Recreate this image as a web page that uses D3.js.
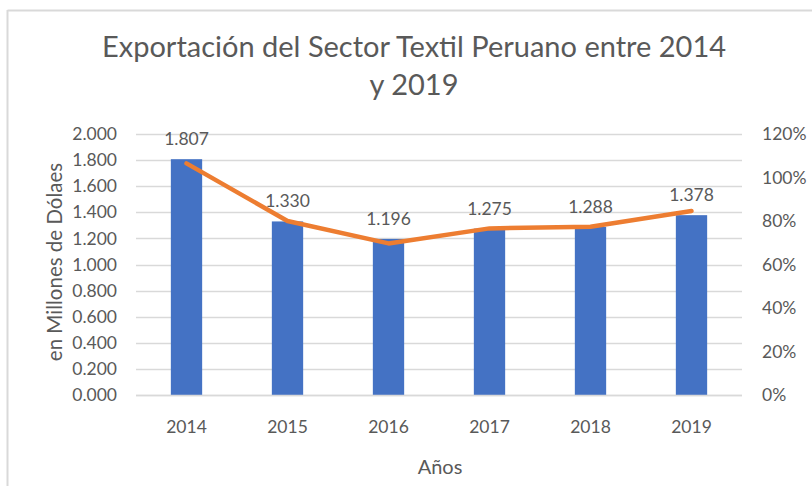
<!DOCTYPE html>
<html>
<head>
<meta charset="utf-8">
<script src="https://cdn.jsdelivr.net/npm/d3@7"></script>
<style>
  html, body { margin: 0; padding: 0; background: #fff; }
  svg { display: block; }
  text { font-family: Lato, "Open Sans", "Noto Sans", sans-serif; fill: #595959; }
</style>
</head>
<body>
<svg id="chart" width="812" height="486"></svg>
<script>
const years = ["2014", "2015", "2016", "2017", "2018", "2019"];
const exportValues = [1.807, 1.330, 1.196, 1.275, 1.288, 1.378];
const percentValues = [1.065, 0.80, 0.697, 0.766, 0.774, 0.846];
const leftTicks = [0, 0.2, 0.4, 0.6, 0.8, 1.0, 1.2, 1.4, 1.6, 1.8, 2.0];
const rightTicks = [0, 0.2, 0.4, 0.6, 0.8, 1.0, 1.2];
const titleLines = ["Exportación del Sector Textil Peruano entre 2014", "y 2019"];
const yTitle = "en Millones de Dólaes";
const xTitle = "Años";

const svg = d3.select("#chart");
const W = 812, H = 486;
const plot = { left: 136, right: 742, top: 134, bottom: 395 };
const FONT = "Lato, 'Open Sans', sans-serif";

// chart frame (top and left edges visible)
svg.append("line").attr("x1", 7.5).attr("x2", W).attr("y1", 10.5).attr("y2", 10.5)
  .attr("stroke", "#D9D9D9").attr("stroke-width", 2);
svg.append("line").attr("x1", 7.5).attr("x2", 7.5).attr("y1", 10).attr("y2", H)
  .attr("stroke", "#D9D9D9").attr("stroke-width", 2);

const x = d3.scaleBand().domain(years).range([plot.left, plot.right])
  .paddingInner(0.69).paddingOuter(0.345);
const y = d3.scaleLinear().domain([0, 2]).range([plot.bottom, plot.top]);
const y2 = d3.scaleLinear().domain([0, 1.2]).range([plot.bottom, plot.top]);

// gridlines
svg.append("g").selectAll("line").data(leftTicks).join("line")
  .attr("x1", plot.left).attr("x2", plot.right)
  .attr("y1", d => Math.round(y(d)) + 0.5).attr("y2", d => Math.round(y(d)) + 0.5)
  .attr("stroke", "#D9D9D9").attr("stroke-width", 1.3);

// left axis
const leftAxis = svg.append("g").attr("transform", `translate(${plot.left - 19},0)`)
  .call(d3.axisLeft(y).tickValues(leftTicks).tickSize(0).tickPadding(0).tickFormat(d3.format(".3f")));
leftAxis.select(".domain").remove();
leftAxis.selectAll("text").style("font-size", "17.5px").attr("fill", "#595959")
  .style("font-family", FONT);

// right axis
const rightAxis = svg.append("g").attr("transform", `translate(${plot.right + 20},0)`)
  .call(d3.axisRight(y2).tickValues(rightTicks).tickSize(0).tickPadding(0).tickFormat(d3.format(".0%")));
rightAxis.select(".domain").remove();
rightAxis.selectAll("text").style("font-size", "17.5px").attr("fill", "#595959")
  .style("font-family", FONT);

// bars
svg.append("g").selectAll("rect").data(years).join("rect")
  .attr("x", d => x(d)).attr("width", x.bandwidth())
  .attr("y", (d, i) => y(exportValues[i]))
  .attr("height", (d, i) => y(0) - y(exportValues[i]))
  .attr("fill", "#4472C4");

// x axis
const xAxis = svg.append("g").attr("transform", `translate(0,${plot.bottom})`)
  .call(d3.axisBottom(x).tickSize(0).tickPadding(26));
xAxis.select(".domain").attr("stroke", "#D9D9D9").attr("stroke-width", 1.3)
  .attr("d", `M${plot.left},0.5H${plot.right}`);
xAxis.selectAll("text").style("font-size", "17.5px").attr("fill", "#595959")
  .style("font-family", FONT);

// line
const line = d3.line().x((d, i) => x(years[i]) + x.bandwidth() / 2).y(d => y2(d));
svg.append("path").datum(percentValues).attr("d", line)
  .attr("fill", "none").attr("stroke", "#ED7D31").attr("stroke-width", 4.5)
  .attr("stroke-linecap", "round").attr("stroke-linejoin", "round");

// data labels
svg.append("g").selectAll("text").data(years).join("text")
  .attr("x", d => x(d) + x.bandwidth() / 2)
  .attr("y", (d, i) => y(exportValues[i]) - 14)
  .attr("text-anchor", "middle").style("font-size", "17.5px")
  .text((d, i) => d3.format(".3f")(exportValues[i]));

// title
svg.append("text").attr("x", 414).attr("y", 57).attr("text-anchor", "middle")
  .style("font-size", "29px").text(titleLines[0]);
svg.append("text").attr("x", 414).attr("y", 95).attr("text-anchor", "middle")
  .style("font-size", "29px").text(titleLines[1]);

// axis titles
svg.append("text").attr("transform", "translate(62,262) rotate(-90)")
  .attr("text-anchor", "middle").style("font-size", "20.5px").text(yTitle);
svg.append("text").attr("x", 440).attr("y", 474).attr("text-anchor", "middle")
  .style("font-size", "20px").text(xTitle);
</script>
</body>
</html>
